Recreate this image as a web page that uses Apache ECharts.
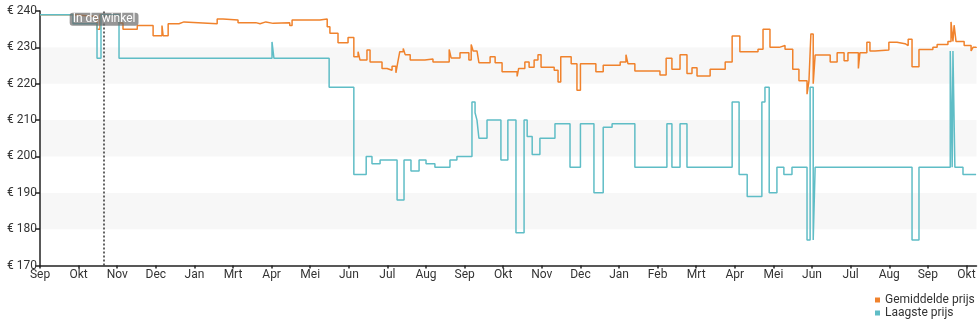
<!DOCTYPE html>
<html>
<head>
<meta charset="utf-8">
<script src="https://cdn.jsdelivr.net/npm/echarts@6/dist/echarts.min.js"></script>
<style>
html,body{margin:0;padding:0;background:#fff;}
#chart{width:980px;height:325px;}
</style>
</head>
<body>
<div id="chart"></div>
<script>
// x = months since first September, y = price in euro
const monthLabels = ['Sep','Okt','Nov','Dec','Jan','Mrt','Apr','Mei','Jun','Jul','Aug','Sep','Okt','Nov','Dec','Jan','Feb','Mrt','Apr','Mei','Jun','Jul','Aug','Sep','Okt'];
const yTicks = [170,180,190,200,210,220,230,240];
const storeMarkerX = 1.66;
const storeMarkerLabel = 'In de winkel';

const avgPrice = [
[0,239],[0.855,238.5],[1.477,235],[1.554,239],[2.047,236.7],[2.15,235],[2.52,236],[2.93,233.2],[3.16,236],[3.19,233.2],
[3.32,236.5],[3.6,237],[3.73,236.5],[4.59,237.8],[4.74,237.5],[5.13,236.8],[5.59,236.5],[5.7,237],[5.85,236.6],[6.04,236.8],
[6.47,236],[6.53,237.5],[7.25,237.8],[7.44,235.7],[7.51,233.9],[7.72,231.3],[7.98,232.7],[8.13,227.4],[8.24,228.8],[8.29,226.5],
[8.47,229.3],[8.55,226],[8.86,224.2],[8.99,223.7],[9.12,224.8],[9.22,223],[9.27,226],[9.32,228.8],[9.41,229.7],[9.46,228],
[9.59,226.5],[9.97,226.8],[10.18,226],[10.6,229.4],[10.65,227.1],[10.88,228.5],[11.11,226.5],[11.17,230.8],[11.22,229],[11.32,228.8],
[11.37,225.8],[11.66,227.4],[11.79,225.8],[11.97,223.3],[12.36,222],[12.4,224.2],[12.56,226],[12.67,224.5],[12.8,226.5],[12.9,228],
[12.98,224.5],[13.32,223.7],[13.42,220.5],[13.49,227.4],[13.76,225.5],[13.91,218.2],[14.0,225.5],[14.4,223.3],[14.59,225.1],[15.03,226],
[15.18,228],[15.23,225.5],[15.41,223.5],[16.06,222.4],[16.22,227],[16.37,224],[16.58,228],[16.76,222.8],[16.89,224.4],[17.02,222.1],
[17.36,224],[17.75,226],[17.93,233.1],[18.13,228.8],[18.6,229.5],[18.73,235],[18.91,230],[19.15,230.5],[19.3,229.5],[19.5,224],
[19.66,220.8],[19.87,217.1],[19.92,220.8],[19.97,233.7],[20.03,220],[20.08,227.9],[20.47,226],[20.65,228.5],[20.83,226.3],[20.93,228.5],
[21.2,224.2],[21.24,228.5],[21.42,231.4],[21.5,229],[21.63,229.3],[21.99,231.4],[22.2,231],[22.41,230.5],[22.49,232.2],[22.59,224.7],
[22.77,229.4],[23.13,230],[23.24,230.8],[23.52,231.6],[23.6,237],[23.65,231.6],[23.68,236.1],[23.73,231.6],[23.94,230.5],[24.12,229],
[24.17,230],[24.25,229.8]
];

const lowPrice = [
[0,239],[0.855,236.5],[1.477,227],[1.58,239],[2.047,227],[6.01,231.5],[6.06,227],[7.49,219],[8.13,195],[8.45,200],
[8.6,198],[8.81,199],[9.25,188],[9.43,199],[9.61,196],[9.82,199],[10.0,198],[10.23,197],[10.62,199],[10.8,200],
[11.19,215],[11.27,212],[11.32,210],[11.37,205],[11.58,210],[11.94,199],[12.12,210],[12.33,179],[12.54,210],[12.62,205.5],
[12.75,200.5],[12.95,205],[13.34,209],[13.73,197],[14.0,209],[14.35,190],[14.59,208],[14.82,209],[15.41,197],[16.24,209],
[16.37,197],[16.58,209],[16.76,197],[17.93,215],[18.11,195],[18.32,189],[18.7,215],[18.78,219],[18.89,190],[19.09,197],
[19.27,195],[19.48,197],[19.87,177],[19.95,219],[20.03,177],[20.08,197],[22.59,177],[22.77,197],[23.58,229],[23.63,197],
[23.65,229],[23.7,197],[23.91,195],[24.25,195]
];

const monthTicks = monthLabels.map((_, i) => i);
const chart = echarts.init(document.getElementById('chart'), null, {renderer: 'canvas'});
const font = 'Roboto';
chart.setOption({
  animation: false,
  backgroundColor: '#fff',
  textStyle: {fontFamily: font},
  grid: {left: 40, right: 3.5, top: 11, bottom: 59.5},
  legend: {
    orient: 'vertical', left: 870, top: 289, itemWidth: 5, itemHeight: 5, itemGap: 1,
    textStyle: {fontSize: 12, color: '#333', fontFamily: font},
    data: [{name: 'Gemiddelde prijs', icon: 'rect'}, {name: 'Laagste prijs', icon: 'rect'}]
  },
  xAxis: {
    type: 'value', min: 0, max: 24.26, interval: 1,
    axisLine: {lineStyle: {color: '#222', width: 1.5}},
    axisTick: {show: true, length: 3, customValues: monthTicks, lineStyle: {color: '#222', width: 1.5}},
    axisLabel: {customValues: monthTicks, margin: 3, fontSize: 12, color: '#333', fontFamily: font,
      formatter: v => monthLabels[Math.round(v)] || ''},
    splitLine: {show: false}
  },
  yAxis: {
    type: 'value', min: yTicks[0], max: yTicks[yTicks.length - 1], interval: 10,
    axisLine: {show: true, lineStyle: {color: '#222', width: 1.5}},
    axisTick: {show: true, length: 5, lineStyle: {color: '#222', width: 1.5}},
    axisLabel: {margin: 3, fontSize: 12, color: '#333', fontFamily: font, formatter: v => '€ ' + v},
    splitLine: {show: false},
    splitArea: {show: true, areaStyle: {color: ['#ffffff', '#f7f7f7']}}
  },
  series: [
    {
      name: 'Gemiddelde prijs', type: 'line', step: 'end', data: avgPrice, showSymbol: false, symbol: 'none',
      color: '#f0822c', lineStyle: {width: 1.5, color: '#f0822c'},
      markLine: {
        silent: true, symbol: 'none', label: {show: false},
        lineStyle: {type: [2, 2], color: '#333', width: 1.5},
        data: [{xAxis: storeMarkerX}]
      }
    },
    {
      name: 'Laagste prijs', type: 'line', step: 'end', data: lowPrice, showSymbol: false, symbol: 'none',
      color: '#5fbdc6', lineStyle: {width: 1.5, color: '#5fbdc6'},
      markPoint: {
        silent: true, symbol: 'rect', symbolSize: 0,
        label: {show: true, position: 'inside', formatter: storeMarkerLabel, color: '#fff', fontSize: 12,
          fontFamily: font, backgroundColor: 'rgba(105,105,105,0.7)', borderRadius: 3, padding: [1, 3, 0, 3]},
        data: [{coord: [storeMarkerX, 237.7]}]
      }
    }
  ]
});
</script>
</body>
</html>
